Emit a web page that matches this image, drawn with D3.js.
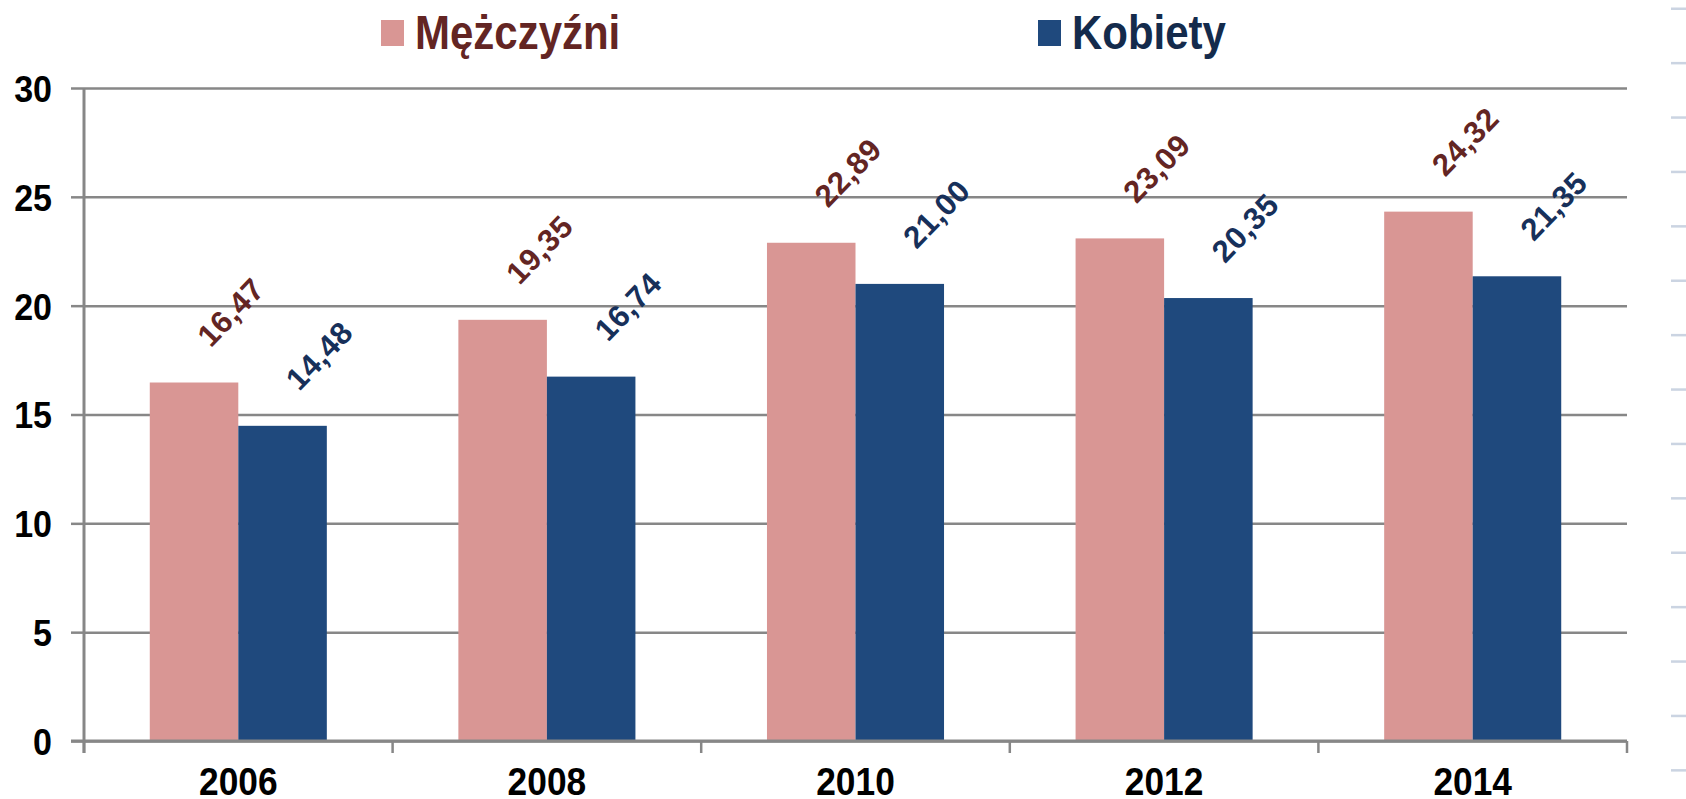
<!DOCTYPE html>
<html>
<head>
<meta charset="utf-8">
<script src="https://cdn.jsdelivr.net/npm/d3@7/dist/d3.min.js"></script>
<style>
  html, body { margin: 0; padding: 0; background: #ffffff; }
  svg { display: block; }
  text { font-family: "Liberation Sans", Arial, sans-serif; font-weight: bold; }
</style>
</head>
<body>
<svg id="chart" width="1686" height="799"></svg>
<script>
const years = ["2006", "2008", "2010", "2012", "2014"];
const seriesNames = ["Mężczyźni", "Kobiety"];
const men = [16.47, 19.35, 22.89, 23.09, 24.32];
const women = [14.48, 16.74, 21.00, 20.35, 21.35];
const yTicks = [0, 5, 10, 15, 20, 25, 30];

const barColors = { "Mężczyźni": "#D99694", "Kobiety": "#1F497D" };
const labelColors = { "Mężczyźni": "#632523", "Kobiety": "#17305A" };
const legendTextColors = { "Mężczyźni": "#632523", "Kobiety": "#142B4C" };
const gridColor = "#878787";

const rows = years.map((yr, i) => ({ year: yr, values: [
  { key: "Mężczyźni", value: men[i] },
  { key: "Kobiety", value: women[i] }
]}));

const svg = d3.select("#chart");
const plotLeft = 84, plotRight = 1627, plotTop = 88, plotBottom = 741;

const y = d3.scaleLinear().domain([0, 30]).range([plotBottom, plotTop]);
const x0 = d3.scaleBand().domain(years).range([plotLeft, plotRight]).padding(0);
const x1 = d3.scaleBand().domain(seriesNames).range([0, x0.bandwidth()])
  .paddingInner(0).paddingOuter(0.743);

// decorative dashes at right edge
svg.append("g").selectAll("rect").data(d3.range(15)).join("rect")
  .attr("x", 1671).attr("width", 15)
  .attr("y", d => 7.5 + d * 54.4).attr("height", 2.5)
  .attr("fill", "#CBD4E2");

// gridlines
const grid = svg.append("g").attr("transform", `translate(${plotLeft},0)`)
  .call(d3.axisLeft(y).tickValues(yTicks).tickSize(-(plotRight - plotLeft)).tickFormat(""));
grid.select(".domain").remove();
grid.selectAll("line").attr("stroke", gridColor).attr("stroke-width", 2.5);

// bars
const groups = svg.append("g").selectAll("g").data(rows).join("g")
  .attr("transform", d => `translate(${x0(d.year)},0)`);
groups.selectAll("rect").data(d => d.values).join("rect")
  .attr("x", d => x1(d.key))
  .attr("width", x1.bandwidth())
  .attr("y", d => y(d.value))
  .attr("height", d => y(0) - y(d.value))
  .attr("fill", d => barColors[d.key]);

// data labels
groups.selectAll("text.val").data(d => d.values).join("text")
  .attr("class", "val")
  .attr("transform", d => `translate(${x1(d.key) + x1.bandwidth() / 2 + 37},${y(d.value) - 70}) rotate(-46)`)
  .attr("text-anchor", "middle")
  .attr("dominant-baseline", "central")
  .attr("font-size", 31)
  .attr("letter-spacing", 0.5)
  .attr("fill", d => labelColors[d.key])
  .text(d => d.value.toFixed(2).replace(".", ","));

// y axis (outer ticks + labels)
const yAxis = svg.append("g").attr("transform", `translate(${plotLeft},0)`)
  .call(d3.axisLeft(y).tickValues(yTicks).tickSize(13).tickPadding(0).tickFormat(d3.format("d")));
yAxis.select(".domain").remove();
yAxis.selectAll("line").attr("stroke", gridColor).attr("stroke-width", 2.5);
yAxis.selectAll("text")
  .attr("x", -32 / 0.92)
  .attr("dy", "0.36em")
  .attr("transform", "scale(0.92,1)")
  .attr("font-size", 37)
  .attr("fill", "#000");

// y axis line
svg.append("line")
  .attr("x1", plotLeft).attr("x2", plotLeft).attr("y1", plotTop).attr("y2", plotBottom + 12)
  .attr("stroke", gridColor).attr("stroke-width", 3);

// x axis
const xAxis = svg.append("g").attr("transform", `translate(0,${plotBottom})`)
  .call(d3.axisBottom(x0).tickSize(0).tickPadding(0));
xAxis.select(".domain").remove();
xAxis.selectAll("text")
  .attr("y", 54).attr("dy", 0)
  .attr("transform", "scale(0.93,1)")
  .attr("font-size", 38)
  .attr("fill", "#000");
svg.append("line")
  .attr("x1", 71).attr("x2", plotRight).attr("y1", plotBottom).attr("y2", plotBottom)
  .attr("stroke", gridColor).attr("stroke-width", 3);
const boundaries = years.map(d => x0(d)).concat([x0(years[years.length - 1]) + x0.bandwidth()]);
svg.append("g").selectAll("line").data(boundaries).join("line")
  .attr("x1", d => d).attr("x2", d => d)
  .attr("y1", plotBottom).attr("y2", plotBottom + 12)
  .attr("stroke", gridColor).attr("stroke-width", 2.5);

// legend
const legendPos = [{ key: "Mężczyźni", sx: 381, tx: 415 }, { key: "Kobiety", sx: 1038, tx: 1072 }];
const lg = svg.append("g").selectAll("g").data(legendPos).join("g");
lg.append("rect")
  .attr("x", d => d.sx).attr("y", 20).attr("width", 23).attr("height", 26)
  .attr("fill", d => barColors[d.key]);
lg.append("text")
  .attr("transform", d => `translate(${d.tx},49) scale(0.875,1)`)
  .attr("font-size", 48)
  .attr("fill", d => legendTextColors[d.key])
  .text(d => d.key);
</script>
</body>
</html>
